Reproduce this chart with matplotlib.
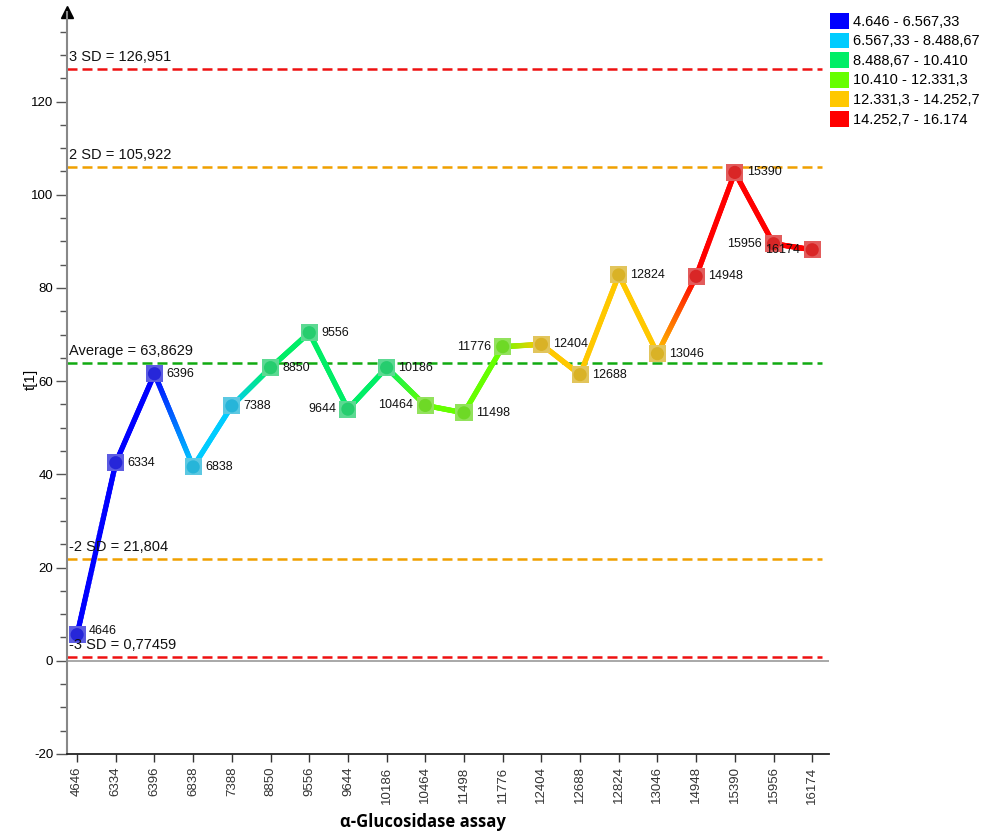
import numpy as np
import matplotlib
matplotlib.use('Agg')
import matplotlib.pyplot as plt
from matplotlib.collections import LineCollection
from matplotlib.colors import to_rgb
from matplotlib.patches import Patch

plt.rcParams['font.family'] = ['Liberation Sans', 'DejaVu Sans']
plt.rcParams['axes.unicode_minus'] = False

# sample ids along the x axis and their t[1] scores
samples = ['4646', '6334', '6396', '6838', '7388', '8850', '9556', '9644', '10186', '10464',
           '11498', '11776', '12404', '12688', '12824', '13046', '14948', '15390', '15956', '16174']
t1 = [5.6, 42.5, 61.6, 41.6, 54.7, 62.9, 70.4, 54.0, 62.9, 54.8,
      53.2, 67.4, 67.9, 61.4, 82.8, 65.9, 82.5, 104.8, 89.5, 88.2]

# colour classes
class_edges = [4646, 6567.33, 8488.67, 10410, 12331.3, 14252.7, 16174]
class_labels = ['4.646 - 6.567,33', '6.567,33 - 8.488,67', '8.488,67 - 10.410',
                '10.410 - 12.331,3', '12.331,3 - 14.252,7', '14.252,7 - 16.174']
class_colors = ['#0000FF', '#00CCFF', '#00EE66', '#66FF00', '#FFC800', '#FF0000']

# control limits
avg = 63.8629
limits = [(126.951, '3 SD = 126,951', '#EE1111'),
          (105.922, '2 SD = 105,922', '#F0A000'),
          (avg, 'Average = 63,8629', '#11AA11'),
          (21.804, '-2 SD = 21,804', '#F0A000'),
          (0.77459, '-3 SD = 0,77459', '#EE1111')]

# label side for each point: 1 = right, -1 = left
label_side = [1, 1, 1, 1, 1, 1, 1, -1, 1, -1, 1, -1, 1, 1, 1, 1, 1, 1, -1, -1]
label_dy = [2.5] + [0] * 19

x = np.arange(len(samples))
y = np.array(t1)
cls = np.clip(np.searchsorted(class_edges, [float(s) for s in samples], side='right') - 1, 0, 5)
pt_colors = np.array([to_rgb(class_colors[c]) for c in cls])

fig = plt.figure(figsize=(9.86, 8.34), dpi=100)
ax = fig.add_axes([0.068, 0.096, 0.773, 0.89])

# zero line
ax.axhline(0, color='#999999', lw=1.2, zorder=1)

# control lines with their labels
for val, txt, col in limits:
    ax.axhline(val, xmin=0, xmax=0.99, color=col, lw=1.8, ls=(0, (4, 2)), zorder=2)
    ax.text(-0.2, val + 1.2, txt, fontsize=10.5, color='#111111', va='bottom', ha='left', zorder=5)

# line with colour gradient between neighbouring points
n_sub = 40
segs, cols = [], []
for i in range(len(x) - 1):
    ts = np.linspace(0, 1, n_sub + 1)
    xs = x[i] + (x[i + 1] - x[i]) * ts
    ys = y[i] + (y[i + 1] - y[i]) * ts
    for k in range(n_sub):
        segs.append([(xs[k], ys[k]), (xs[k + 1], ys[k + 1])])
        tm = (ts[k] + ts[k + 1]) / 2
        cols.append(pt_colors[i] * (1 - tm) + pt_colors[i + 1] * tm)
lc = LineCollection(segs, colors=cols, linewidths=3.8, capstyle='round', zorder=3)
ax.add_collection(lc)

# shaded square markers
face = pt_colors * 0.7 + 0.15
light = face * 0.75 + 0.25
ax.scatter(x, y, marker='s', s=150, c=light, edgecolors='none', zorder=4)
ax.scatter(x, y, marker='o', s=90, c=face, edgecolors='none', zorder=4)

for xi, yi, name, side, dy in zip(x, y, samples, label_side, label_dy):
    ax.annotate(name, (xi, yi), xytext=(8.5 * side, dy), textcoords='offset points',
                ha='left' if side > 0 else 'right', va='center', fontsize=9,
                color='#111111', zorder=6)

ax.set_xlim(-0.26, 19.44)
ax.set_ylim(-20, 139.3)
ax.set_xticks(x)
ax.set_xticklabels(samples, rotation=90, fontsize=9.5, color='#333333')
ax.set_yticks(np.arange(-20, 121, 20))
ax.set_yticks(np.arange(-20, 136, 5), minor=True)
ax.tick_params(axis='y', which='major', length=8, width=1, color='#555555', labelsize=9.5, pad=2)
ax.tick_params(axis='y', which='minor', length=5, width=1, color='#555555')
ax.tick_params(axis='x', length=6, width=1, color='#333333', pad=3)

for s in ['top', 'right']:
    ax.spines[s].set_visible(False)
ax.spines['left'].set_color('#888888')
ax.spines['left'].set_linewidth(1.5)
ax.spines['bottom'].set_color('#222222')
ax.spines['bottom'].set_linewidth(1.3)
ax.plot(0, 1, marker='^', color='k', ms=9, transform=ax.transAxes, clip_on=False)

ax.set_ylabel('t[1]', fontsize=11)
ax.yaxis.set_label_coords(-0.038, 0.504)
ax.set_xlabel('α-Glucosidase assay', fontsize=12, fontweight='bold', family=['Open Sans', 'DejaVu Sans'])
ax.xaxis.set_label_coords(0.467, -0.079)

handles = [Patch(facecolor=c, edgecolor='none') for c in class_colors]
fig.legend(handles, class_labels, loc='upper left', bbox_to_anchor=(830 / 986, 1 - 13 / 834),
           frameon=False, fontsize=10.5, handlelength=1.3, handleheight=1.3,
           handletextpad=0.3, labelspacing=0.25, borderpad=0, borderaxespad=0)

plt.savefig('out.png', dpi=100)
